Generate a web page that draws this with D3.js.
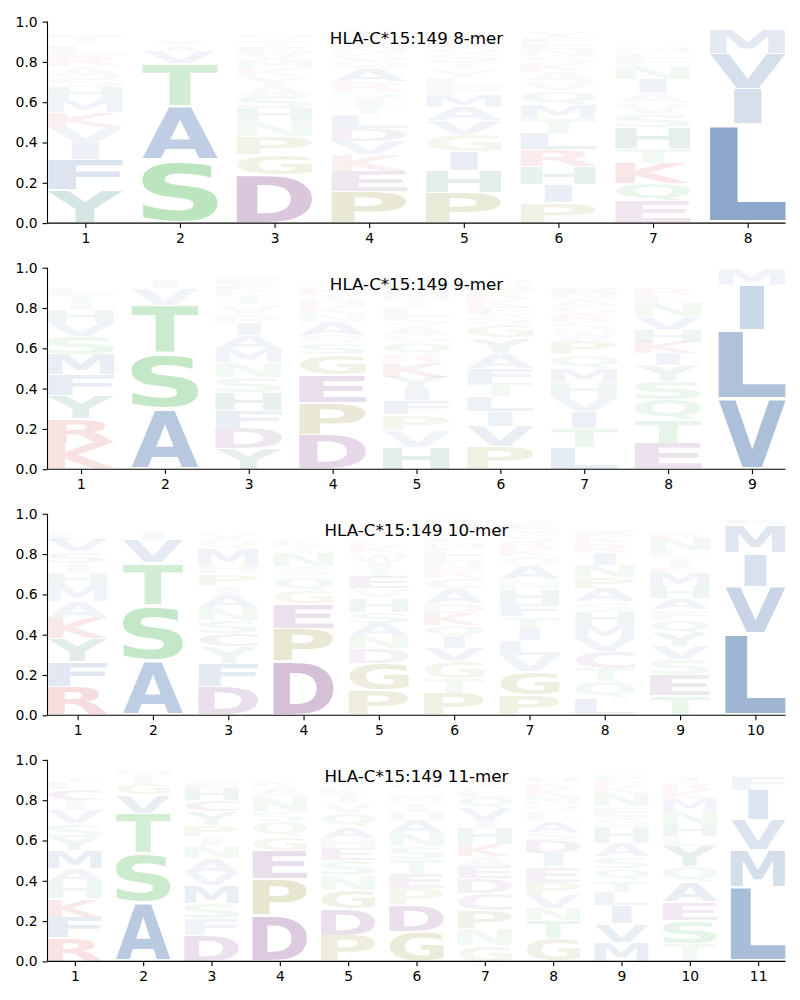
<!DOCTYPE html>
<html>
<head>
<meta charset="utf-8">
<script src="https://cdn.jsdelivr.net/npm/d3@7"></script>
<style>
  body { margin: 0; background: #fff; }
  svg text { font-family: "DejaVu Sans", sans-serif; }
</style>
</head>
<body>
<div id="chart"></div>
<script>
'use strict';
// titles of the four panels
const titles = ["HLA-C*15:149 8-mer", "HLA-C*15:149 9-mer", "HLA-C*15:149 10-mer", "HLA-C*15:149 11-mer"];
const yTicks = [0, 0.2, 0.4, 0.6, 0.8, 1.0];

// each column lists [letter, frequency] from bottom to top
const logo8 = [
  [["Y",.165],["F",.15],["I",.08],["V",.08],["K",.075],["M",.065],["H",.06],["S",.05],["A",.055],["R",.055],["L",.05],["T",.05],["Q",.02],["N",.015],["E",.015]],
  [["S",.31],["A",.27],["T",.215],["V",.058],["I",.03],["Y",.03],["M",.025],["L",.02],["N",.015],["Q",.015],["G",.01]],
  [["D",.24],["G",.1],["P",.09],["N",.075],["H",.065],["S",.06],["A",.05],["Y",.05],["K",.04],["M",.04],["V",.04],["E",.03],["T",.03],["Q",.03],["R",.02],["L",.02],["F",.02]],
  [["P",.157],["E",.1],["K",.083],["V",.066],["D",.066],["L",.066],["T",.04],["I",.04],["S",.035],["R",.05],["A",.06],["Q",.04],["G",.04],["N",.03],["M",.03],["F",.03],["Y",.03],["H",.02]],
  [["P",.152],["H",.109],["I",.094],["G",.083],["V",.07],["A",.066],["M",.06],["F",.045],["L",.04],["Y",.04],["T",.04],["S",.04],["Q",.035],["E",.03],["D",.03],["K",.025],["R",.025],["N",.01]],
  [["P",.1],["I",.09],["H",.09],["R",.083],["L",.083],["T",.075],["M",.066],["Q",.066],["V",.05],["A",.05],["K",.04],["S",.035],["N",.035],["E",.03],["F",.03],["Y",.03],["G",.025],["D",.02],["W",.01]],
  [["E",.107],["Q",.09],["K",.1],["T",.075],["H",.1],["S",.066],["V",.055],["A",.055],["I",.066],["N",.07],["F",.035],["L",.03],["M",.03],["R",.025],["D",.02],["G",.02],["P",.02],["Y",.02],["W",.01]],
  [["L",.49],["I",.177],["V",.175],["M",.122],["F",.015],["A",.01],["T",.005],["C",.005],["W",.005]]
];
const logo9 = [
  [["K",.127],["R",.124],["Y",.116],["F",.1],["M",.1],["S",.09],["V",.066],["H",.066],["I",.035],["T",.05],["L",.03],["A",.025],["Q",.02],["E",.015],["G",.015],["D",.01]],
  [["A",.3],["S",.273],["T",.24],["V",.083],["I",.04],["M",.02],["L",.015],["G",.01],["N",.01],["Q",.008]],
  [["Y",.1],["D",.1],["F",.09],["H",.09],["S",.075],["N",.075],["M",.066],["A",.066],["I",.058],["P",.05],["V",.05],["T",.04],["K",.03],["L",.03],["E",.03],["Q",.025],["G",.02],["R",.01]],
  [["D",.17],["P",.157],["E",.14],["G",.1],["S",.058],["Q",.04],["A",.066],["N",.04],["K",.04],["H",.03],["T",.03],["R",.03],["L",.025],["V",.025],["M",.02],["I",.015],["Y",.01]],
  [["H",.11],["V",.083],["P",.078],["F",.07],["I",.058],["Y",.058],["K",.074],["R",.04],["Q",.06],["G",.035],["A",.05],["S",.04],["L",.05],["T",.04],["M",.035],["N",.03],["E",.03],["D",.025],["W",.015]],
  [["P",.11],["V",.1],["I",.075],["L",.075],["T",.066],["F",.075],["A",.075],["Y",.075],["G",.066],["S",.045],["E",.04],["K",.04],["R",.035],["N",.035],["Q",.03],["M",.025],["D",.02],["H",.02]],
  [["L",.106],["T",.096],["I",.083],["V",.072],["H",.075],["M",.07],["Q",.066],["P",.066],["W",.055],["S",.04],["R",.04],["G",.04],["A",.035],["N",.03],["E",.03],["F",.025],["D",.02],["Y",.02],["K",.015]],
  [["E",.127],["T",.116],["Q",.1],["S",.09],["Y",.083],["I",.058],["K",.058],["H",.058],["V",.07],["N",.066],["L",.04],["R",.03],["D",.025],["M",.02],["F",.02],["A",.015],["G",.01]],
  [["V",.35],["L",.34],["I",.223],["M",.083]]
];
const logo10 = [
  [["R",.141],["F",.124],["Y",.116],["K",.1],["A",.083],["M",.083],["H",.058],["I",.05],["S",.058],["V",.058],["L",.033],["T",.025],["Q",.02],["N",.02],["E",.015],["G",.01],["D",.01]],
  [["A",.274],["S",.274],["T",.207],["V",.116],["I",.041],["L",.02],["M",.02],["G",.015],["Y",.012],["N",.01],["Q",.01]],
  [["D",.141],["F",.116],["Y",.083],["C",.066],["S",.066],["N",.058],["A",.066],["I",.05],["P",.058],["H",.04],["M",.083],["Q",.05],["V",.03],["L",.025],["T",.02],["E",.02],["R",.015],["K",.015]],
  [["D",.265],["P",.166],["E",.124],["G",.066],["Q",.066],["S",.05],["N",.066],["T",.04],["K",.03],["A",.025],["L",.02],["V",.02],["H",.02],["R",.015],["M",.01],["Y",.01]],
  [["P",.124],["G",.132],["D",.075],["N",.058],["A",.066],["S",.058],["H",.066],["V",.05],["E",.058],["T",.04],["I",.035],["W",.04],["K",.035],["L",.03],["R",.025],["Q",.025],["M",.02],["F",.02],["C",.02],["Y",.015]],
  [["P",.108],["T",.075],["G",.083],["V",.066],["I",.058],["Q",.058],["K",.058],["D",.05],["A",.075],["C",.05],["R",.04],["N",.04],["E",.035],["L",.035],["M",.03],["F",.03],["Y",.03],["H",.03],["S",.03],["W",.015]],
  [["P",.1],["G",.116],["V",.083],["L",.075],["I",.058],["T",.058],["F",.058],["H",.075],["N",.05],["A",.066],["Q",.05],["K",.035],["R",.035],["S",.035],["M",.03],["E",.03],["D",.025],["Y",.02]],
  [["L",.083],["Q",.083],["T",.066],["C",.083],["V",.066],["M",.066],["H",.066],["S",.05],["A",.066],["P",.058],["N",.058],["I",.058],["R",.05],["K",.035],["E",.03],["Y",.025],["G",.02],["D",.02],["F",.015]],
  [["T",.1],["E",.1],["S",.075],["V",.066],["Y",.066],["Q",.066],["F",.05],["A",.058],["H",.058],["M",.066],["K",.03],["I",.05],["L",.035],["N",.06],["R",.03],["G",.025],["C",.02],["D",.02],["P",.015],["W",.01]],
  [["L",.406],["V",.232],["I",.166],["M",.138],["F",.028],["W",.01],["A",.01],["T",.01]]
];
const logo11 = [
  [["R",.116],["F",.104],["K",.091],["H",.086],["A",.063],["M",.091],["Y",.066],["S",.066],["V",.066],["I",.05],["C",.058],["L",.033],["T",.03],["Q",.02],["N",.02],["E",.015],["G",.013],["D",.01]],
  [["A",.295],["S",.24],["T",.2],["V",.091],["G",.058],["I",.041],["M",.03],["L",.02],["Y",.01],["N",.01],["Q",.005]],
  [["D",.129],["F",.083],["S",.075],["M",.091],["V",.058],["A",.075],["N",.058],["I",.05],["P",.058],["Y",.066],["C",.058],["H",.058],["E",.03],["K",.025],["R",.025],["T",.02],["Q",.02],["G",.02]],
  [["D",.229],["P",.182],["E",.141],["G",.066],["Q",.075],["S",.05],["N",.075],["A",.05],["K",.03],["H",.025],["L",.02],["R",.02],["V",.015],["M",.01],["Y",.01]],
  [["P",.129],["D",.133],["G",.091],["N",.075],["S",.075],["E",.058],["H",.05],["A",.058],["Q",.066],["V",.05],["I",.041],["K",.035],["T",.03],["L",.03],["R",.025],["M",.02],["Y",.02],["F",.015]],
  [["G",.146],["D",.133],["P",.083],["E",.075],["T",.066],["S",.066],["N",.066],["A",.066],["H",.041],["I",.041],["M",.04],["K",.025],["Q",.03],["R",.03],["V",.025],["L",.025],["Y",.02],["F",.02]],
  [["G",.08],["N",.083],["P",.091],["C",.083],["D",.075],["E",.058],["A",.05],["K",.058],["H",.083],["I",.04],["V",.058],["Q",.058],["L",.035],["S",.03],["R",.03],["M",.025],["F",.02],["Y",.015],["W",.01]],
  [["G",.113],["T",.091],["N",.058],["V",.066],["P",.066],["E",.075],["I",.066],["D",.066],["S",.041],["A",.058],["L",.041],["Q",.041],["M",.04],["K",.035],["R",.03],["H",.03],["F",.025],["Y",.025],["C",.015],["W",.015]],
  [["M",.096],["V",.091],["I",.091],["L",.066],["T",.058],["Q",.058],["S",.058],["A",.066],["H",.083],["G",.05],["E",.05],["N",.066],["K",.035],["R",.03],["F",.03],["P",.025],["Y",.02],["D",.015],["C",.01]],
  [["T",.088],["S",.116],["E",.091],["A",.1],["Q",.075],["Y",.1],["L",.05],["H",.058],["N",.066],["M",.058],["K",.05],["R",.035],["I",.03],["F",.025],["D",.02],["G",.02],["P",.02]],
  [["L",.37],["M",.182],["V",.149],["I",.149],["F",.066],["W",.025],["Y",.02],["A",.015],["T",.012],["C",.01]]
];
const logos = [logo8, logo9, logo10, logo11];

// colour groups
const groupColors = {
  hydrophobic: "#144b94",
  polar: "#28aa32",
  acidic: "#64146e",
  basic: "#c81414",
  special: "#787300",
  aromatic: "#005f55"
};
const groupLetters = {
  hydrophobic: "AFILMVW",
  polar: "NQST",
  acidic: "CDE",
  basic: "KR",
  special: "GP",
  aromatic: "HY"
};
const letterColor = {};
Object.keys(groupLetters).forEach(function (g) {
  groupLetters[g].split("").forEach(function (c) { letterColor[c] = groupColors[g]; });
});

const W = 800, H = 1000;
const left = 47.5, right = 785.5;
const firstTop = 21.6, panelStep = 246.1, panelH = 201.5;

const svg = d3.select("#chart").append("svg")
  .attr("width", W).attr("height", H);

// glyph ink metrics from a canvas
const ctx = document.createElement("canvas").getContext("2d");
const fontPx = 100;
ctx.font = "bold " + fontPx + "px 'DejaVu Sans'";
const metricCache = {};
function metrics(ch) {
  if (!metricCache[ch]) {
    let m = ctx.measureText(ch);
    metricCache[ch] = {
      l: m.actualBoundingBoxLeft, r: m.actualBoundingBoxRight,
      a: m.actualBoundingBoxAscent, d: m.actualBoundingBoxDescent
    };
  }
  return metricCache[ch];
}
const eWidth = metrics("E").l + metrics("E").r;

function drawPanel(idx) {
  let data = logos[idx];
  let n = data.length;
  let top = firstTop + idx * panelStep;
  let bottom = top + panelH;

  let x = d3.scaleLinear().domain([0.6, n + 0.4]).range([left, right]);
  let y = d3.scaleLinear().domain([0, 1]).range([bottom, top]);

  let g = svg.append("g");
  let glyphs = g.append("g").attr("class", "glyphs");

  data.forEach(function (col, i) {
    let pos = i + 1;
    let x0 = x(pos - 0.4), x1 = x(pos + 0.4);
    let bw = x1 - x0, cx = (x0 + x1) / 2;
    let base = 0;
    col.forEach(function (d) {
      let ch = d[0], h = d[1];
      let pad = 0.03 * h;
      let yB = y(base + pad), yT = y(base + h - pad);
      base += h;
      let m = metrics(ch);
      let gw = m.l + m.r, gh = m.a + m.d;
      let sx = Math.min(bw / gw, bw / eWidth);
      let sy = (yB - yT) / gh;
      let xl = cx - sx * gw / 2;
      let tx = xl + sx * m.l;
      let ty = yB - sy * m.d;
      glyphs.append("text")
        .attr("x", 0).attr("y", 0)
        .attr("font-size", fontPx)
        .attr("font-weight", "bold")
        .attr("fill", letterColor[ch])
        .attr("fill-opacity", Math.min(1, h))
        .attr("transform", "translate(" + tx + "," + ty + ") scale(" + sx + "," + sy + ")")
        .text(ch);
    });
  });

  // axes
  let xAxis = d3.axisBottom(x)
    .tickValues(d3.range(1, n + 1))
    .tickFormat(d3.format("d"))
    .tickSize(4.9).tickPadding(4.9);
  let yAxis = d3.axisLeft(y)
    .tickValues(yTicks)
    .tickFormat(d3.format(".1f"))
    .tickSize(4.9).tickPadding(4.9);

  let ax = g.append("g").attr("transform", "translate(0," + bottom + ")").call(xAxis);
  let ay = g.append("g").attr("transform", "translate(" + left + ",0)").call(yAxis);
  [ax, ay].forEach(function (a) {
    a.select(".domain").attr("stroke", "#000").attr("stroke-width", 1.1);
    a.selectAll(".tick line").attr("stroke", "#000").attr("stroke-width", 1.1);
    a.selectAll(".tick text")
      .attr("font-family", "DejaVu Sans")
      .attr("font-size", 13.9)
      .attr("fill", "#000");
  });
  // no outer ticks on the spines
  ax.select(".domain").attr("d", "M" + left + ",0H" + right);
  ay.select(".domain").attr("d", "M0," + bottom + "V" + top);

  g.append("text")
    .attr("x", (left + right) / 2)
    .attr("y", top + 22)
    .attr("text-anchor", "middle")
    .attr("font-size", 16.7)
    .attr("fill", "#000")
    .text(titles[idx]);
}

for (let i = 0; i < logos.length; ++i) drawPanel(i);
</script>
</body>
</html>
